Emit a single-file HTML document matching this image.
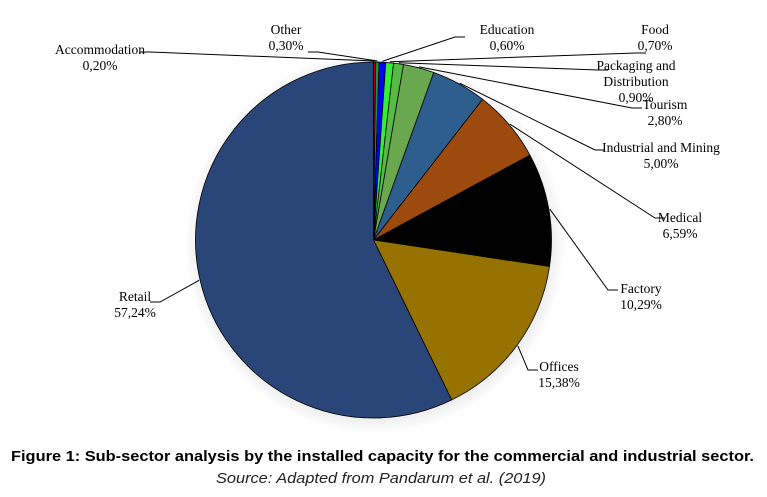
<!DOCTYPE html>
<html><head><meta charset="utf-8"><style>
html,body{margin:0;padding:0;background:#fff;}
svg{display:block;}
text{font-family:"Liberation Serif",serif;font-size:13.5px;fill:#000;}
</style></head><body>
<svg id="chart" width="767" height="497" viewBox="0 0 767 497">
<defs><radialGradient id="sh" cx="50%" cy="50%" r="50%"><stop offset="80%" stop-color="#000" stop-opacity="0.18"/><stop offset="100%" stop-color="#000" stop-opacity="0"/></radialGradient></defs>
<circle cx="375" cy="243" r="190" fill="url(#sh)"/>
<g id="slices"></g><g id="labels"></g>
<text x="11" y="461" textLength="743" lengthAdjust="spacingAndGlyphs" style="font-family:'Liberation Sans',sans-serif;font-weight:bold;font-size:15px">Figure 1: Sub-sector analysis by the installed capacity for the commercial and industrial sector.</text>
<text x="216" y="483" textLength="330" lengthAdjust="spacingAndGlyphs" style="font-family:'Liberation Sans',sans-serif;font-style:italic;font-size:15px;fill:#222">Source: Adapted from Pandarum et al. (2019)</text>
</svg>
<script>
const categories=["Accommodation","Other","Education","Food","Packaging and Distribution","Tourism","Industrial and Mining","Medical","Factory","Offices","Retail"];
const values=[0.20,0.30,0.60,0.70,0.90,2.80,5.00,6.59,10.29,15.38,57.24];
const valueLabels=["0,20%","0,30%","0,60%","0,70%","0,90%","2,80%","5,00%","6,59%","10,29%","15,38%","57,24%"];
const colors=["#c00000","#00a050","#0000ff","#33ee33","#55bb44","#6aa84f","#2e5e8e","#9c4a0e","#000000","#967300","#2a4578"];
// label layout: [centerX, firstLineY, lineEndX, lineEndY]
const layout=[[100,54,150,52],[286,34,318,52],[507,34,455,37],[655,34,636,53],[636,70,598,70],[665,109,632,108],[661,152,595,150],[680,222,655,218],[641,293,608,290],[559,371,528,370],[135,301,160,302]];
const NS="http://www.w3.org/2000/svg";
const cx=373.5,cy=240,r=178;
const total=values.reduce((a,b)=>a+b,0);
const g=document.getElementById('slices'),lg=document.getElementById('labels');
function pt(a,rr){return [cx+rr*Math.sin(a),cy-rr*Math.cos(a)];}
let a0=0;
values.forEach((v,i)=>{
  const a1=a0+v/total*2*Math.PI;
  const p0=pt(a0,r),p1=pt(a1,r);
  const large=(a1-a0)>Math.PI?1:0;
  const p=document.createElementNS(NS,'path');
  p.setAttribute('d',`M${cx},${cy}L${p0[0]},${p0[1]}A${r},${r} 0 ${large} 1 ${p1[0]},${p1[1]}Z`);
  p.setAttribute('fill',colors[i]);p.setAttribute('stroke','#000');p.setAttribute('stroke-width','0.8');
  
  
  g.appendChild(p);
  const m=(a0+a1)/2,e=pt(m,r+1),L=layout[i];
  const ln=document.createElementNS(NS,'polyline');
  const hx=L[2]<cx?L[2]-10:L[2]+10;
  ln.setAttribute('points',`${e[0]},${e[1]} ${L[2]},${L[3]} ${hx},${L[3]}`);
  ln.setAttribute('fill','none');ln.setAttribute('stroke','#000');ln.setAttribute('stroke-width','1');
  
  
  lg.appendChild(ln);
  const lines=categories[i]==="Packaging and Distribution"?["Packaging and","Distribution",valueLabels[i]]:[categories[i],valueLabels[i]];
  lines.forEach((s,k)=>{
    const t=document.createElementNS(NS,'text');
    t.setAttribute('x',L[0]);t.setAttribute('y',L[1]+k*16);t.setAttribute('text-anchor','middle');
    t.textContent=s;
    
    
    lg.appendChild(t);
  });
  a0=a1;
});
</script>
</body></html>
